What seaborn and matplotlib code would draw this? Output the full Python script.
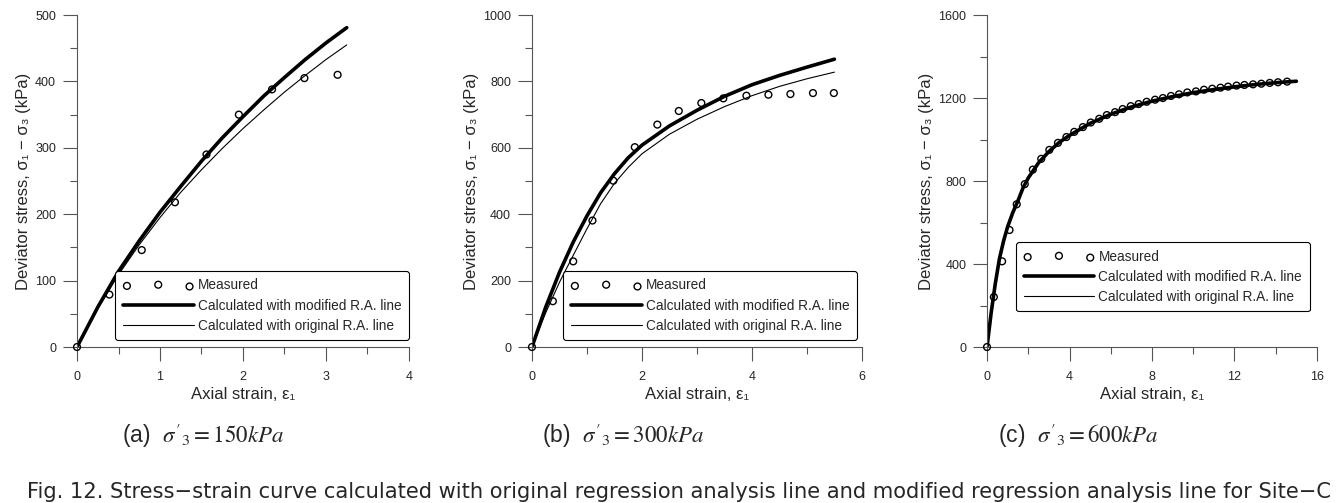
import numpy as np
import pandas as pd
import matplotlib
matplotlib.use('Agg')
import matplotlib.pyplot as plt
from matplotlib.ticker import MultipleLocator
import seaborn as sns

# measured points and calculated curves
# (a) sigma'3 = 150 kPa
a_meas_x = [0, 0.39, 0.78, 1.18, 1.56, 1.95, 2.35, 2.74, 3.14]
a_meas_y = [0, 79, 146, 218, 290, 350, 388, 405, 410]
a_curve_x = [0, 0.25, 0.5, 0.75, 1.0, 1.25, 1.5, 1.75, 2.0, 2.25, 2.5, 2.75, 3.0, 3.25]
a_mod_y = [0, 60, 114, 160, 203, 242, 280, 315, 347, 378, 406, 433, 458, 481]
a_orig_y = [0, 58, 109, 154, 195, 233, 267, 299, 329, 357, 384, 409, 433, 455]

# (b) sigma'3 = 300 kPa
b_meas_x = [0, 0.38, 0.75, 1.10, 1.48, 1.87, 2.28, 2.67, 3.08, 3.48, 3.90, 4.30, 4.70, 5.11, 5.49]
b_meas_y = [0, 138, 258, 381, 501, 602, 670, 711, 735, 749, 757, 760, 762, 765, 765]
b_curve_x = [0, 0.25, 0.5, 0.75, 1.0, 1.25, 1.5, 1.75, 2.0, 2.5, 3.0, 3.5, 4.0, 4.5, 5.0, 5.5]
b_mod_y = [0, 120, 225, 316, 395, 465, 522, 570, 608, 666, 713, 755, 790, 818, 843, 867]
b_orig_y = [0, 103, 195, 276, 356, 432, 493, 541, 582, 641, 686, 724, 757, 785, 808, 828]

# (c) sigma'3 = 600 kPa
c_meas_x = [0, 0.33, 0.73, 1.09, 1.44, 1.83, 2.22, 2.63, 3.02, 3.44, 3.85, 4.23, 4.65,
            5.03, 5.44, 5.81, 6.21, 6.58, 6.97, 7.35, 7.74, 8.15, 8.53, 8.92, 9.31,
            9.71, 10.13, 10.52, 10.92, 11.32, 11.69, 12.10, 12.48, 12.90, 13.30,
            13.71, 14.11, 14.55]
c_meas_y = [0, 241, 413, 564, 688, 785, 855, 907, 950, 984, 1012, 1037, 1060,
            1082, 1100, 1118, 1132, 1147, 1161, 1171, 1182, 1192, 1200, 1210, 1218,
            1227, 1232, 1240, 1245, 1250, 1255, 1260, 1263, 1266, 1269,
            1273, 1276, 1279]
c_curve_x = [0, 0.2, 0.4, 0.6, 0.8, 1.0, 1.25, 1.5, 1.75, 2.0, 2.5, 3.0, 3.5, 4.0, 5.0,
             6.0, 7.0, 8.0, 9.0, 10.0, 11.0, 12.0, 13.0, 14.0, 15.0]
c_mod_y = [0, 165, 305, 425, 510, 580, 648, 705, 768, 815, 888, 942, 986, 1020, 1078,
           1122, 1157, 1185, 1207, 1226, 1241, 1254, 1265, 1274, 1281]
c_orig_y = [0, 163, 302, 421, 506, 576, 644, 701, 764, 811, 884, 938, 982, 1017, 1075,
            1119, 1155, 1183, 1205, 1224, 1240, 1253, 1264, 1273, 1280]

panels = [
    ('a', '150', a_meas_x, a_meas_y, a_curve_x, a_mod_y, a_orig_y, 4, 1, 0.5, 500, 100, 50),
    ('b', '300', b_meas_x, b_meas_y, b_curve_x, b_mod_y, b_orig_y, 6, 2, 1, 1000, 200, 100),
    ('c', '600', c_meas_x, c_meas_y, c_curve_x, c_mod_y, c_orig_y, 16, 4, 2, 1600, 400, 200),
]

sns.set_style('ticks')
plt.rcParams['font.family'] = ['Liberation Sans', 'DejaVu Sans']
plt.rcParams['mathtext.fontset'] = 'stix'

fig = plt.figure(figsize=(13.44, 5.03), dpi=100)
lefts = [0.0573, 0.3958, 0.7344]
widths = [0.247, 0.2455, 0.2455]
leg_anchor = [(1.02, 0.0), (1.005, 0.0), (0.998, 0.087)]
cap_x = [203 / 1344, 623 / 1344, 1078 / 1344]

for i, (tag, s3, mx, my, cx, mod, orig, xmax, xmaj, xmin, ymax, ymaj, ymin) in enumerate(panels):
    ax = fig.add_axes([lefts[i], 0.3101, widths[i], 0.660])
    meas = pd.DataFrame({'x': mx, 'y': my})
    curves = pd.DataFrame({'x': cx, 'mod': mod, 'orig': orig})

    h_orig = sns.lineplot(data=curves, x='x', y='orig', ax=ax, color='black', lw=0.8,
                          sort=False, estimator=None).lines[-1]
    h_mod = sns.lineplot(data=curves, x='x', y='mod', ax=ax, color='black', lw=2.6,
                         sort=False, estimator=None).lines[-1]
    sns.scatterplot(data=meas, x='x', y='y', ax=ax, marker='o', s=24, facecolor='none',
                    edgecolor='black', linewidth=1.0, clip_on=False, zorder=5)
    h_meas = ax.collections[-1]

    ax.set_xlim(0, xmax)
    ax.set_ylim(0, ymax)
    ax.xaxis.set_major_locator(MultipleLocator(xmaj))
    ax.xaxis.set_minor_locator(MultipleLocator(xmin))
    ax.yaxis.set_major_locator(MultipleLocator(ymaj))
    ax.yaxis.set_minor_locator(MultipleLocator(ymin))
    ax.tick_params(which='major', length=10, width=0.8, color='#555555', labelsize=9)
    ax.tick_params(axis='x', which='major', pad=7)
    ax.tick_params(axis='y', which='major', pad=5)
    ax.tick_params(which='minor', length=5, width=0.8, color='#555555')
    sns.despine(ax=ax)
    for sp in ['left', 'bottom']:
        ax.spines[sp].set_linewidth(0.8)
        ax.spines[sp].set_color('#555555')

    ax.set_xlabel('Axial strain, ε₁', fontsize=12, labelpad=3)
    ax.set_ylabel('Deviator stress, σ₁ − σ₃ (kPa)', fontsize=12, labelpad=3)

    leg = ax.legend([h_meas, h_mod, h_orig],
                    ['Measured', 'Calculated with modified R.A. line',
                     'Calculated with original R.A. line'],
                    loc='lower right', bbox_to_anchor=leg_anchor[i], fontsize=9.8,
                    scatterpoints=3, handlelength=5.2, handletextpad=0.3,
                    labelspacing=0.45, borderpad=0.55, fancybox=True, framealpha=1,
                    edgecolor='black')
    leg.get_frame().set_linewidth(0.8)

    fig.text(cap_x[i], 1 - 436 / 503, '(' + tag + ')  $\\sigma\'_3 = ' + s3 + 'kPa$',
             ha='center', va='center', fontsize=16.5)

fig.text(679 / 1344, 1 - 492 / 503,
         'Fig. 12. Stress−strain curve calculated with original regression analysis line '
         'and modified regression analysis line for Site−C',
         ha='center', va='center', fontsize=15.1, family=['DejaVu Sans'])

fig.savefig('out.png', dpi=100)
